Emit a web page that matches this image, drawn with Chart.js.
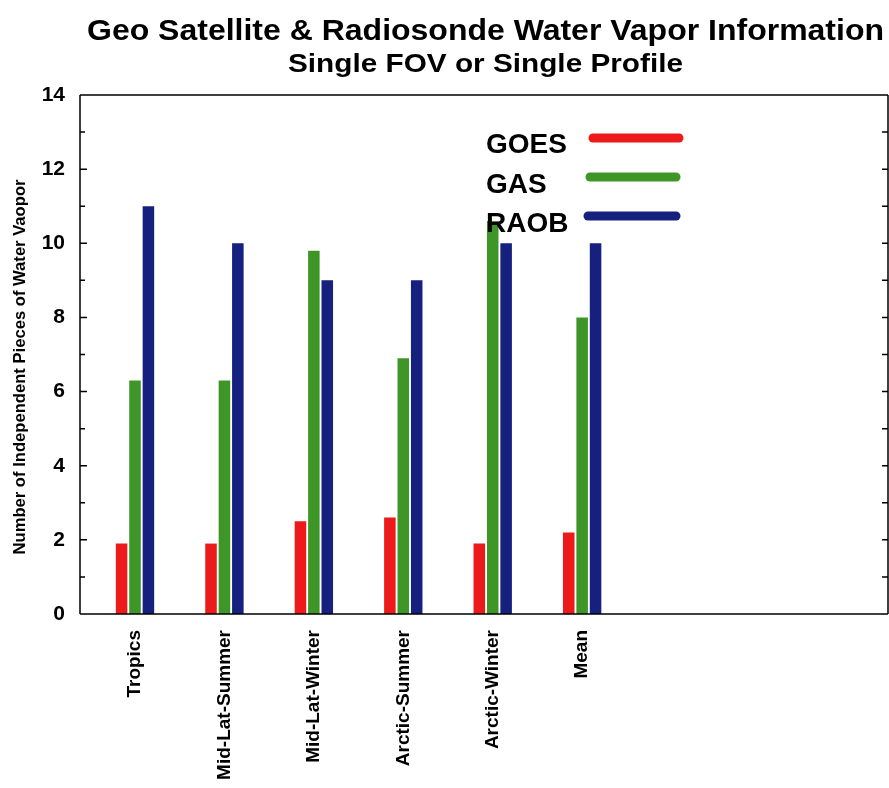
<!DOCTYPE html>
<html>
<head>
<meta charset="utf-8">
<script src="https://cdn.jsdelivr.net/npm/chart.js@4.4.1/dist/chart.umd.min.js"></script>
<style>
html,body{margin:0;padding:0;background:#fff;}
#wrap{width:889px;height:788px;position:relative;}
</style>
</head>
<body>
<div id="wrap"><canvas id="c" width="889" height="788"></canvas></div>
<script>
const categories = ['Tropics', 'Mid-Lat-Summer', 'Mid-Lat-Winter', 'Arctic-Summer', 'Arctic-Winter', 'Mean'];
const goes = [1.9, 1.9, 2.5, 2.6, 1.9, 2.2];
const gas  = [6.3, 6.3, 9.8, 6.9, 10.6, 8.0];
const raob = [11.0, 10.0, 9.0, 9.0, 10.0, 10.0];
const yTicks = [0, 2, 4, 6, 8, 10, 12, 14];
const titleLines = ['Geo Satellite & Radiosonde Water Vapor Information', 'Single FOV or Single Profile'];
const yTitle = 'Number of Independent Pieces of Water Vaopor';

const FONT = '"Liberation Sans", Arial, Helvetica, sans-serif';
const toXY = arr => arr.map((v, i) => ({x: i + 1, y: v}));

function stretchText(ctx, text, cx, cy, font, width) {
  ctx.save();
  ctx.font = font;
  const w = ctx.measureText(text).width;
  ctx.translate(cx, cy);
  ctx.scale(width / w, 1);
  ctx.textAlign = 'center';
  ctx.fillText(text, 0, 0);
  ctx.restore();
}

const framePlugin = {
  id: 'frame',
  afterDatasetsDraw(chart) {
    const {ctx, chartArea: a, scales: {y}} = chart;
    ctx.save();
    ctx.strokeStyle = '#000';
    ctx.lineWidth = 1.5;
    ctx.beginPath();
    ctx.moveTo(a.left, a.top); ctx.lineTo(a.right, a.top);
    ctx.moveTo(a.right, a.top); ctx.lineTo(a.right, a.bottom);
    ctx.moveTo(a.left, a.bottom); ctx.lineTo(a.right, a.bottom);
    ctx.moveTo(a.left, a.top); ctx.lineTo(a.left, a.bottom);
    for (let v = 1; v < 14; v++) {
      const py = y.getPixelForValue(v);
      const len = (v % 2 === 0) ? 7 : 5;
      ctx.moveTo(a.left, py); ctx.lineTo(a.left + len, py);
      ctx.moveTo(a.right, py); ctx.lineTo(a.right - 6, py);
    }
    ctx.stroke();

    // legend
    const items = chart.data.datasets;
    ctx.textAlign = 'left';
    ctx.textBaseline = 'alphabetic';
    ctx.font = 'bold 28px ' + FONT;
    const lx = [593, 590, 588], lxe = [679, 676, 676];
    items.forEach((ds, i) => {
      const base = 153 + i * 39.5;
      ctx.fillStyle = '#000';
      ctx.fillText(ds.label, 486, base);
      ctx.strokeStyle = ds.backgroundColor;
      ctx.lineWidth = 9;
      ctx.lineCap = 'round';
      ctx.beginPath();
      const ly = base - 15 - i * 0.5;
      ctx.moveTo(lx[i], ly); ctx.lineTo(lxe[i], ly);
      ctx.stroke();
    });

    // titles
    ctx.fillStyle = '#000';
    ctx.textBaseline = 'alphabetic';
    stretchText(ctx, titleLines[0], 485.5, 40, 'bold 30px ' + FONT, 797);
    stretchText(ctx, titleLines[1], 485.5, 72, 'bold 25px ' + FONT, 395);

    // y axis title
    ctx.save();
    ctx.translate(21, 367);
    ctx.rotate(-Math.PI / 2);
    ctx.textBaseline = 'middle';
    stretchText(ctx, yTitle, 0, 0, 'bold 16px ' + FONT, 375);
    ctx.restore();
    ctx.restore();
  }
};

new Chart(document.getElementById('c'), {
  type: 'bar',
  data: {
    datasets: [
      {label: 'GOES', data: toXY(goes), backgroundColor: '#ec1a1a'},
      {label: 'GAS', data: toXY(gas), backgroundColor: '#3e9628'},
      {label: 'RAOB', data: toXY(raob), backgroundColor: '#16207e'}
    ]
  },
  options: {
    responsive: false,
    animation: false,
    layout: {padding: {top: 95, right: 1, left: 0, bottom: 0}},
    categoryPercentage: 0.45,
    barPercentage: 0.86,
    plugins: {legend: {display: false}, title: {display: false}, tooltip: {enabled: false}},
    scales: {
      x: {
        type: 'linear',
        offset: false,
        min: 0.385,
        max: 9.42,
        afterBuildTicks: s => { s.ticks = categories.map((c, i) => ({value: i + 1})); },
        afterFit: s => { s.height = 174; },
        grid: {display: false, drawTicks: false},
        border: {display: false},
        ticks: {
          autoSkip: false,
          minRotation: 90,
          maxRotation: 90,
          padding: 16,
          color: '#000',
          font: {family: FONT, weight: 'bold', size: 19},
          callback: v => categories[Math.round(v) - 1] || ''
        }
      },
      y: {
        min: 0,
        max: 14,
        afterBuildTicks: s => { s.ticks = yTicks.map(v => ({value: v})); },
        afterFit: s => { s.width = 80; },
        grid: {display: false, drawTicks: false},
        border: {display: false},
        ticks: {
          padding: 15,
          color: '#000',
          font: {family: FONT, weight: 'bold', size: 21}
        }
      }
    }
  },
  plugins: [framePlugin]
});
</script>
</body>
</html>
